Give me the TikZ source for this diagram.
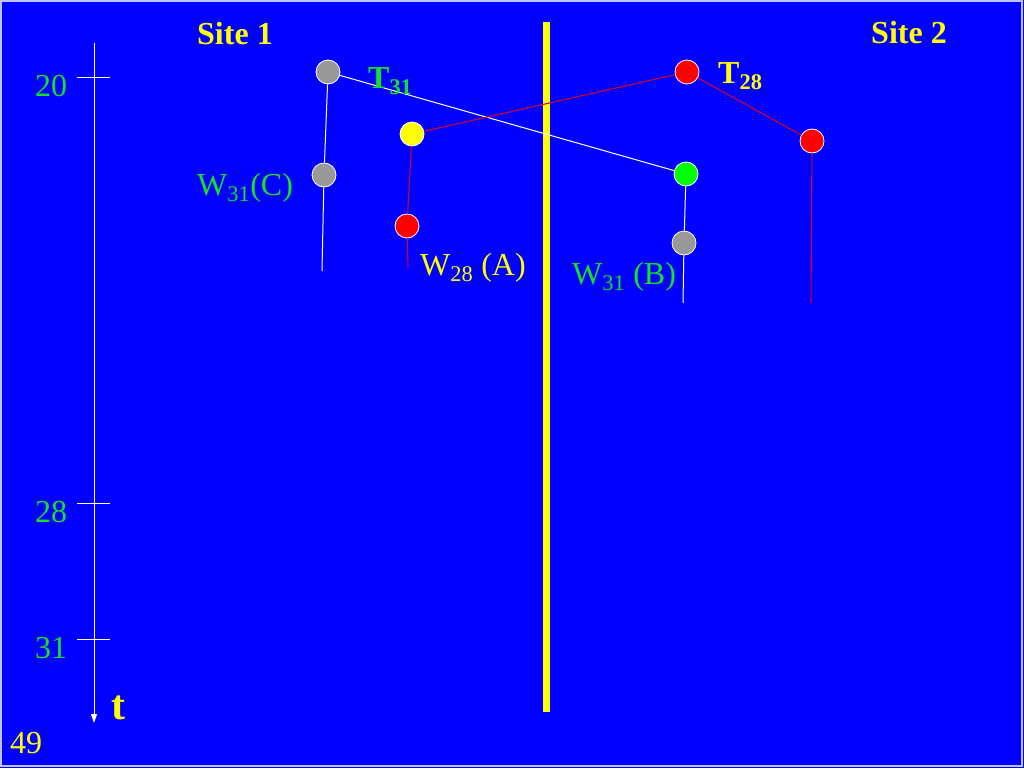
\documentclass[tikz,border=0pt]{standalone}
\usepackage{fontspec}
\setmainfont{Liberation Serif}
\usetikzlibrary{positioning, arrows.meta, calc}

\definecolor{slideblue}{RGB}{0,0,255}
\definecolor{slideyellow}{RGB}{255,255,0}
\definecolor{labelgreen}{RGB}{20,225,40}
\definecolor{lineRed}{RGB}{210,0,50}

\begin{document}
\begin{tikzpicture}[
    x=1pt, y=-1pt,
    >={Triangle[width=6pt, length=9pt]}, % small arrow on the time axis
    % Styles
    event/.style={ % one operation of a transaction
        circle,
        minimum size=24pt,
        inner sep=0pt,
        draw=white,
        line width=0.8pt,
        fill=gray!80
    },
    txt/.style={ % plain slide text
        inner sep=0pt,
        anchor=base west,
        font=\fontsize{32}{38}\selectfont
    },
    head/.style={ % bold slide text
        txt,
        font=\fontsize{32}{38}\selectfont\bfseries
    },
    tline/.style={ % history of T31
        white,
        line width=1pt
    },
    rline/.style={ % history of T28
        lineRed,
        line width=1.1pt
    }
]

    % Slide background and frame
    \fill[slideblue] (0,0) rectangle (1024,768);
    \draw[white!75!blue, line width=1.5pt] (1,1) rectangle (1022,766);

    % Time axis
    \coordinate (axtop) at (94,43);
    \coordinate (axend) at (94,723);
    \draw[white, line width=1pt, ->] (axtop) -- (axend);
    \foreach \Y/\L in {77/20, 503/28, 639/31} {
        \draw[white, line width=1pt] (77,\Y) -- (110,\Y);
        \node[txt, text=labelgreen] (tick\L) at (35,\Y+19) {\L};
    }
    \node[head, text=slideyellow, font=\fontsize{42}{48}\selectfont\bfseries] (tlab) at (111,719) {t};
    \node[txt, text=slideyellow] (page) at (10,753) {49};

    % Border between the sites
    \coordinate (bartop) at (546,22);
    \coordinate (barend) at (546,712);
    \draw[slideyellow, line width=7pt] (bartop) -- (barend);
    \node[head, text=slideyellow] (site1) at (197,45) {Site 1};
    \node[head, text=slideyellow] (site2) at (871,44) {Site 2};

    % Events of T31
    \node[event] (a1) at (328,72) {};
    \node[event] (a2) at (324,175) {};
    \node[event, fill=green] (b1) at (686,174) {};
    \node[event] (b2) at (684,243) {};
    \coordinate (aend) at (322,271);
    \coordinate (bend) at (683,303);

    % Events of T28
    \node[event, fill=red] (c1) at (687,72) {};
    \node[event, fill=red] (c2) at (812,141) {};
    \node[event, fill=slideyellow] (d1) at (412,134) {};
    \node[event, fill=red] (d2) at (407,226) {};
    \coordinate (cend) at (811,303);
    \coordinate (dend) at (408,268);

    % T31 lines
    \draw[tline] (a1) -- (a2) -- (aend);
    \draw[tline] (a1) -- (b1) -- (b2) -- (bend);

    % T28 lines
    \draw[rline] (c1) -- (c2) -- (cend);
    \draw[rline] (c1) -- (d1) -- (d2) -- (dend);

    % Labels
    \node[head, text=labelgreen] (t31) at (368,88) {T\textsubscript{31}};
    \node[head, text=slideyellow] (t28) at (718,83) {T\textsubscript{28}};
    \node[txt, text=labelgreen] (w31c) at (197,195) {W\textsubscript{31}(C)};
    \node[txt, text=slideyellow] (w28a) at (420,275) {W\textsubscript{28} (A)};
    \node[txt, text=labelgreen] (w31b) at (572,284) {W\textsubscript{31} (B)};
\end{tikzpicture}
\end{document}
